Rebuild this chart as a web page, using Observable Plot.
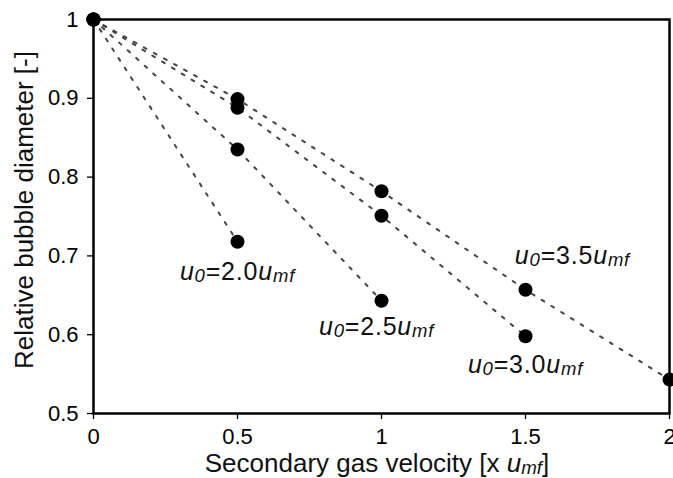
<!DOCTYPE html>
<html>
<head>
<meta charset="utf-8">
<script src="https://cdn.jsdelivr.net/npm/d3@7"></script>
<script src="https://cdn.jsdelivr.net/npm/@observablehq/plot@0.6"></script>
<style>
  html, body { margin: 0; padding: 0; background: white; }
</style>
</head>
<body>
<div id="chart"></div>
<script>
// ---- data ----
const xValues = [0, 0.5, 1, 1.5, 2];
const seriesNames = ["2.0", "2.5", "3.0", "3.5"];
const s20 = [1, 0.718];
const s25 = [1, 0.835, 0.643];
const s30 = [1, 0.888, 0.751, 0.598];
const s35 = [1, 0.899, 0.782, 0.657, 0.543];
const labelX = [0.5, 0.983, 1.5, 1.663];
const labelY = [0.680, 0.610, 0.561, 0.700];
const xTicks = [0, 0.5, 1, 1.5, 2];
const xTickLabels = ["0", "0.5", "1", "1.5", "2"];
const yTicks = [0.5, 0.6, 0.7, 0.8, 0.9, 1];
const yTickLabels = ["0.5", "0.6", "0.7", "0.8", "0.9", "1"];

const seriesValues = [s20, s25, s30, s35];
const rows = [];
seriesValues.forEach((vals, si) => {
  vals.forEach((v, i) => rows.push({series: seriesNames[si], x: xValues[i], y: v}));
});
const labels = seriesNames.map((n, i) => ({name: n, x: labelX[i], y: labelY[i]}));

const W = 673, H = 478;
const mL = 93, mR = 4, mT = 19, mB = 65;
const font = "'Liberation Sans', Arial, Helvetica, sans-serif";

const chart = Plot.plot({
  width: W, height: H,
  marginLeft: mL, marginRight: mR, marginTop: mT, marginBottom: mB,
  style: {fontFamily: font, fontSize: "22px", color: "black", background: "white"},
  x: {domain: [0, 2]},
  y: {domain: [0.5, 1]},
  marks: [
    Plot.axisX({ticks: xTicks, tickFormat: (d) => xTickLabels[xTicks.indexOf(d)], tickSize: 6, tickPadding: 9, label: null, fontSize: 22, strokeWidth: 1.3}),
    Plot.axisY({ticks: yTicks, tickFormat: (d) => yTickLabels[yTicks.indexOf(d)], tickSize: 6, tickPadding: 9, label: null, fontSize: 22, strokeWidth: 1.3}),
    Plot.line(rows, {x: "x", y: "y", z: "series", stroke: "#444", strokeWidth: 2, strokeDasharray: "3,8.5"}),
    Plot.dot(rows, {x: "x", y: "y", r: 7, fill: "black", stroke: "none"}),
    Plot.text(labels, {x: "x", y: "y", text: d => "u0=" + d.name + "umf", fontSize: 25, fill: "#111"}),
    Plot.frame({stroke: "black", strokeWidth: 2.5})
  ]
});

const svg = d3.select(chart);
svg.style("overflow", "hidden");

// rich text for annotations: italic u with subscripts
svg.selectAll('g[aria-label="text"] text').each(function() {
  const t = d3.select(this);
  const m = (this.textContent || "").match(/^u0=(.*)umf$/);
  if (!m) return;
  t.text(null).attr("letter-spacing", "0.8");
  t.append("tspan").attr("font-style", "italic").text("u");
  t.append("tspan").attr("font-style", "italic").attr("font-size", "0.74em").attr("dy", "2").text("0");
  t.append("tspan").attr("dy", "-2").text("=" + m[1]);
  t.append("tspan").attr("font-style", "italic").text("u");
  t.append("tspan").attr("font-style", "italic").attr("font-size", "0.74em").attr("dy", "2").text("mf");
});

// axis titles
const xt = svg.append("text")
  .attr("x", 377)
  .attr("y", H - 6)
  .attr("text-anchor", "middle")
  .attr("font-size", 26)
  .attr("font-family", font)
  .attr("fill", "#111");
xt.append("tspan").text("Secondary gas velocity [x ");
xt.append("tspan").attr("font-style", "italic").text("u");
xt.append("tspan").attr("font-style", "italic").attr("font-size", "0.72em").attr("dy", "2").text("mf");
xt.append("tspan").attr("dy", "-2").text("]");

svg.append("text")
  .attr("transform", `translate(33, 210) rotate(-90)`)
  .attr("text-anchor", "middle")
  .attr("font-size", 26)
  .attr("font-family", font)
  .attr("fill", "#111")
  .text("Relative bubble diameter [-]");

document.getElementById("chart").appendChild(chart);
</script>
</body>
</html>
